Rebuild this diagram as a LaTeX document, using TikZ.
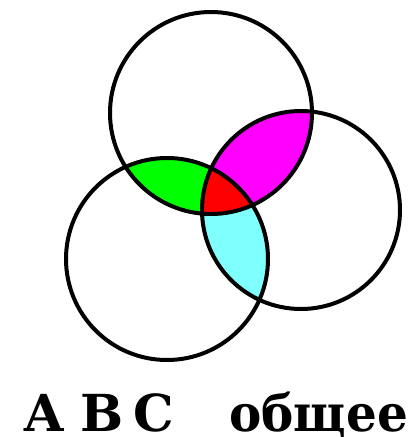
\documentclass[tikz,border=0pt]{standalone}
\usepackage{fontspec}
\setmainfont{DejaVu Serif}
\definecolor{fgreen}{RGB}{0,255,0}
\definecolor{fmag}{RGB}{255,0,255}
\definecolor{fred}{RGB}{255,0,0}
\definecolor{fcyan}{RGB}{128,255,255}
\begin{document}
\begin{tikzpicture}[x=1pt,y=-1pt,
  ring/.style={draw=black,line width=4pt},
  lbl/.style={font=\bfseries\fontsize{51}{51}\selectfont,inner sep=0pt,anchor=base west}]
\useasboundingbox (0,0) rectangle (410,437);
\fill[white] (0,0) rectangle (410,437);
\coordinate (cA) at (211,113);
\coordinate (cB) at (167,259);
\coordinate (cC) at (301,210);
\def\rA{101}\def\rB{101}\def\rC{99}
\begin{scope}
  \clip (cA) circle (\rA);
  \fill[fgreen] (cB) circle (\rB);
\end{scope}
\begin{scope}
  \clip (cA) circle (\rA);
  \fill[fmag] (cC) circle (\rC);
\end{scope}
\begin{scope}
  \clip (cB) circle (\rB);
  \fill[fcyan] (cC) circle (\rC);
\end{scope}
\begin{scope}
  \clip (cA) circle (\rA);
  \clip (cB) circle (\rB);
  \fill[fred] (cC) circle (\rC);
\end{scope}
\draw[ring] (cA) circle (\rA);
\draw[ring] (cB) circle (\rB);
\draw[ring] (cC) circle (\rC);
\node[lbl] (la) at (23,431) {А};
\node[lbl] (lb) at (80,431) {В};
\node[lbl] (lc) at (133,431) {С};
\node[lbl] (common) at (229,431) {\scalebox{0.95}[1]{общее}};
\end{tikzpicture}
\end{document}
